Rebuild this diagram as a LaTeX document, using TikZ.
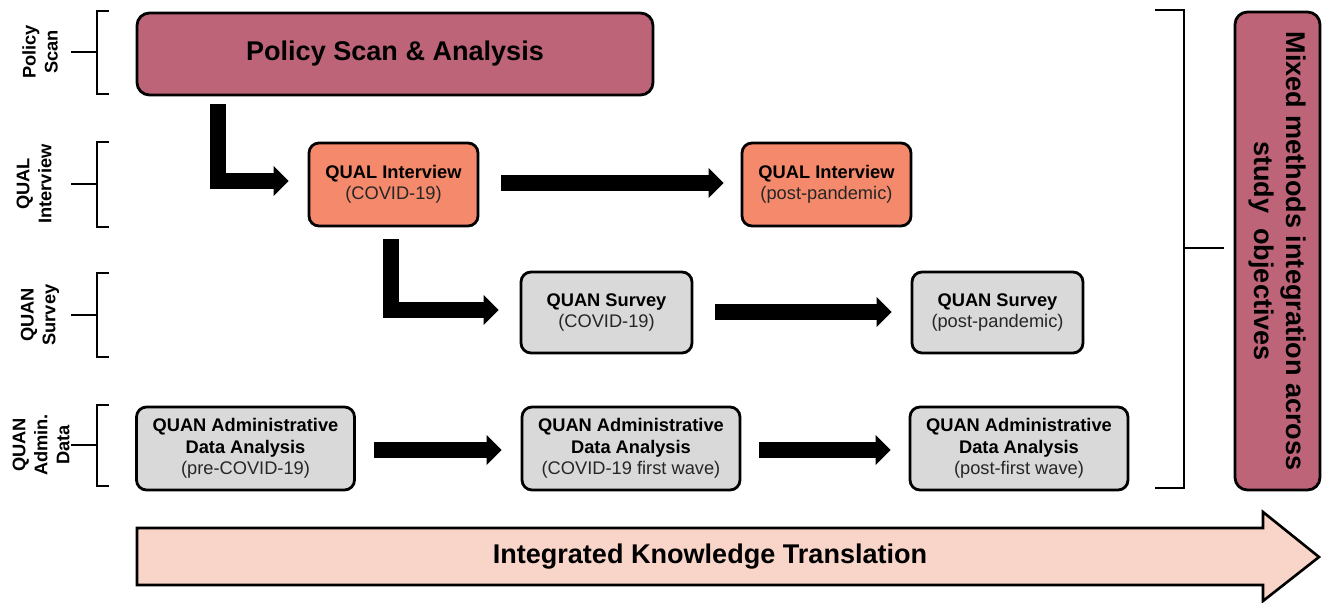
\documentclass[tikz,border=0pt]{standalone}
\usepackage{fontspec}
\setmainfont{Liberation Sans}
\usetikzlibrary{arrows.meta,calc}
\definecolor{mauve}{HTML}{BE6479}
\definecolor{salmon}{HTML}{F4896C}
\definecolor{lgray}{HTML}{D9D9D9}
\definecolor{peach}{HTML}{F9D4C9}
\definecolor{subtxt}{HTML}{262626}
\def\px{0.02cm}
\begin{document}
\begin{tikzpicture}[x=0.02cm,y=-0.02cm,
  box/.style={draw=black, line width=1.6pt, rounded corners=0.2cm, align=center,
    inner sep=0pt, font=\fontsize{10.4}{12.2}\selectfont},
  qualbox/.style={box, fill=salmon, minimum width=169*\px, minimum height=83*\px},
  survbox/.style={box, fill=lgray, minimum width=171*\px, minimum height=81*\px},
  admbox/.style={box, fill=lgray, minimum width=218*\px, minimum height=83*\px},
  side/.style={rotate=90, align=center, inner sep=0pt,
    font=\fontsize{10.4}{12.5}\selectfont\bfseries},
  brk/.style={line width=1.4pt, line join=miter},
  blk/.style={line width=0.32cm, line join=miter,
    -{Triangle[length=0.3cm,width=0.6cm,line width=0pt]}},
  big/.style={font=\fontsize{15.4}{18}\selectfont\bfseries}
]
\useasboundingbox (0,0) rectangle (1322,602);

% side labels and brackets
\node[side] (lps) at (40,52) {Policy\\Scan};
\node[side] (lqi) at (34,184) {QUAL\\Interview};
\node[side] (lqs) at (40,315) {QUAN\\Survey};
\node[side] (lqa) at (41,445) {QUAN\\Admin.\\Data};
\draw[brk] (109,11) -- (97,11) -- (97,94) -- (109,94);
\draw[brk] (71,52) -- (97,52);
\draw[brk] (109,142) -- (97,142) -- (97,227) -- (109,227);
\draw[brk] (71,184) -- (97,184);
\draw[brk] (109,273) -- (97,273) -- (97,357) -- (109,357);
\draw[brk] (71,315) -- (97,315);
\draw[brk] (109,405) -- (97,405) -- (97,486) -- (109,486);
\draw[brk] (71,445) -- (97,445);

% boxes
\node[box, big, fill=mauve, minimum width=516*\px, minimum height=82*\px, rounded corners=0.25cm]
  (ps) at (395,54) {Policy Scan \& Analysis};
\node[qualbox] (qi1) at (393.5,184.5) {\textbf{QUAL Interview}\\{\color{subtxt}(COVID-19)}};
\node[qualbox] (qi2) at (826.5,184.5) {\textbf{QUAL Interview}\\{\color{subtxt}(post-pandemic)}};
\node[survbox] (qs1) at (606.5,312.5) {\textbf{QUAN Survey}\\{\color{subtxt}(COVID-19)}};
\node[survbox] (qs2) at (997.5,312.5) {\textbf{QUAN Survey}\\{\color{subtxt}(post-pandemic)}};
\node[admbox] (qa1) at (245.5,448.5) {\textbf{QUAN Administrative}\\\textbf{Data Analysis}\\{\color{subtxt}(pre-COVID-19)}};
\node[admbox] (qa2) at (631,448.5) {\textbf{QUAN Administrative}\\\textbf{Data Analysis}\\{\color{subtxt}(COVID-19 first wave)}};
\node[admbox] (qa3) at (1019,448.5) {\textbf{QUAN Administrative}\\\textbf{Data Analysis}\\{\color{subtxt}(post-first wave)}};

% block arrows
\draw[blk] ($(ps.south west)+(82,8)$) |- ($(qi1.west)+(-19,-3.5)$);
\draw[blk] ($(qi1.south west)+(83,12)$) |- ($(qs1.west)+(-21,-2.5)$);
\draw[blk] ($(qi1.east)+(22,-1.5)$) -- ($(qi2.west)+(-17,-1.5)$);
\draw[blk] ($(qs1.east)+(22,-0.5)$) -- ($(qs2.west)+(-19,-0.5)$);
\draw[blk] ($(qa1.east)+(18,1.5)$) -- ($(qa2.west)+(-19,1.5)$);
\draw[blk] ($(qa2.east)+(18,1.5)$) -- ($(qa3.west)+(-18,1.5)$);

% right bracket and integration box
\node[box, big, fill=mauve, rotate=-90, minimum width=478*\px, minimum height=85*\px,
  rounded corners=0.25cm, font=\fontsize{15.4}{18}\selectfont\bfseries]
  (mm) at (1277.5,251) {Mixed methods integration across\\study~ objectives};
\coordinate (mmt) at ($(mm.south)+(-10,-3)$);
\draw[brk, line width=1.3pt] (1155,10) -- (1184,10) -- (1184,488) -- (1155,488);
\draw[brk, line width=1.3pt] (1184,248) -- (mmt);

% bottom arrow
\draw[line width=1.5pt, line join=miter, fill=peach]
  (137,528) -- (1263,528) -- (1263,512) -- (1319,557) -- (1263,601) -- (1263,585)
  -- (137,585) -- cycle;
\node[big] (ikt) at (710,557) {Integrated Knowledge Translation};
\end{tikzpicture}
\end{document}
